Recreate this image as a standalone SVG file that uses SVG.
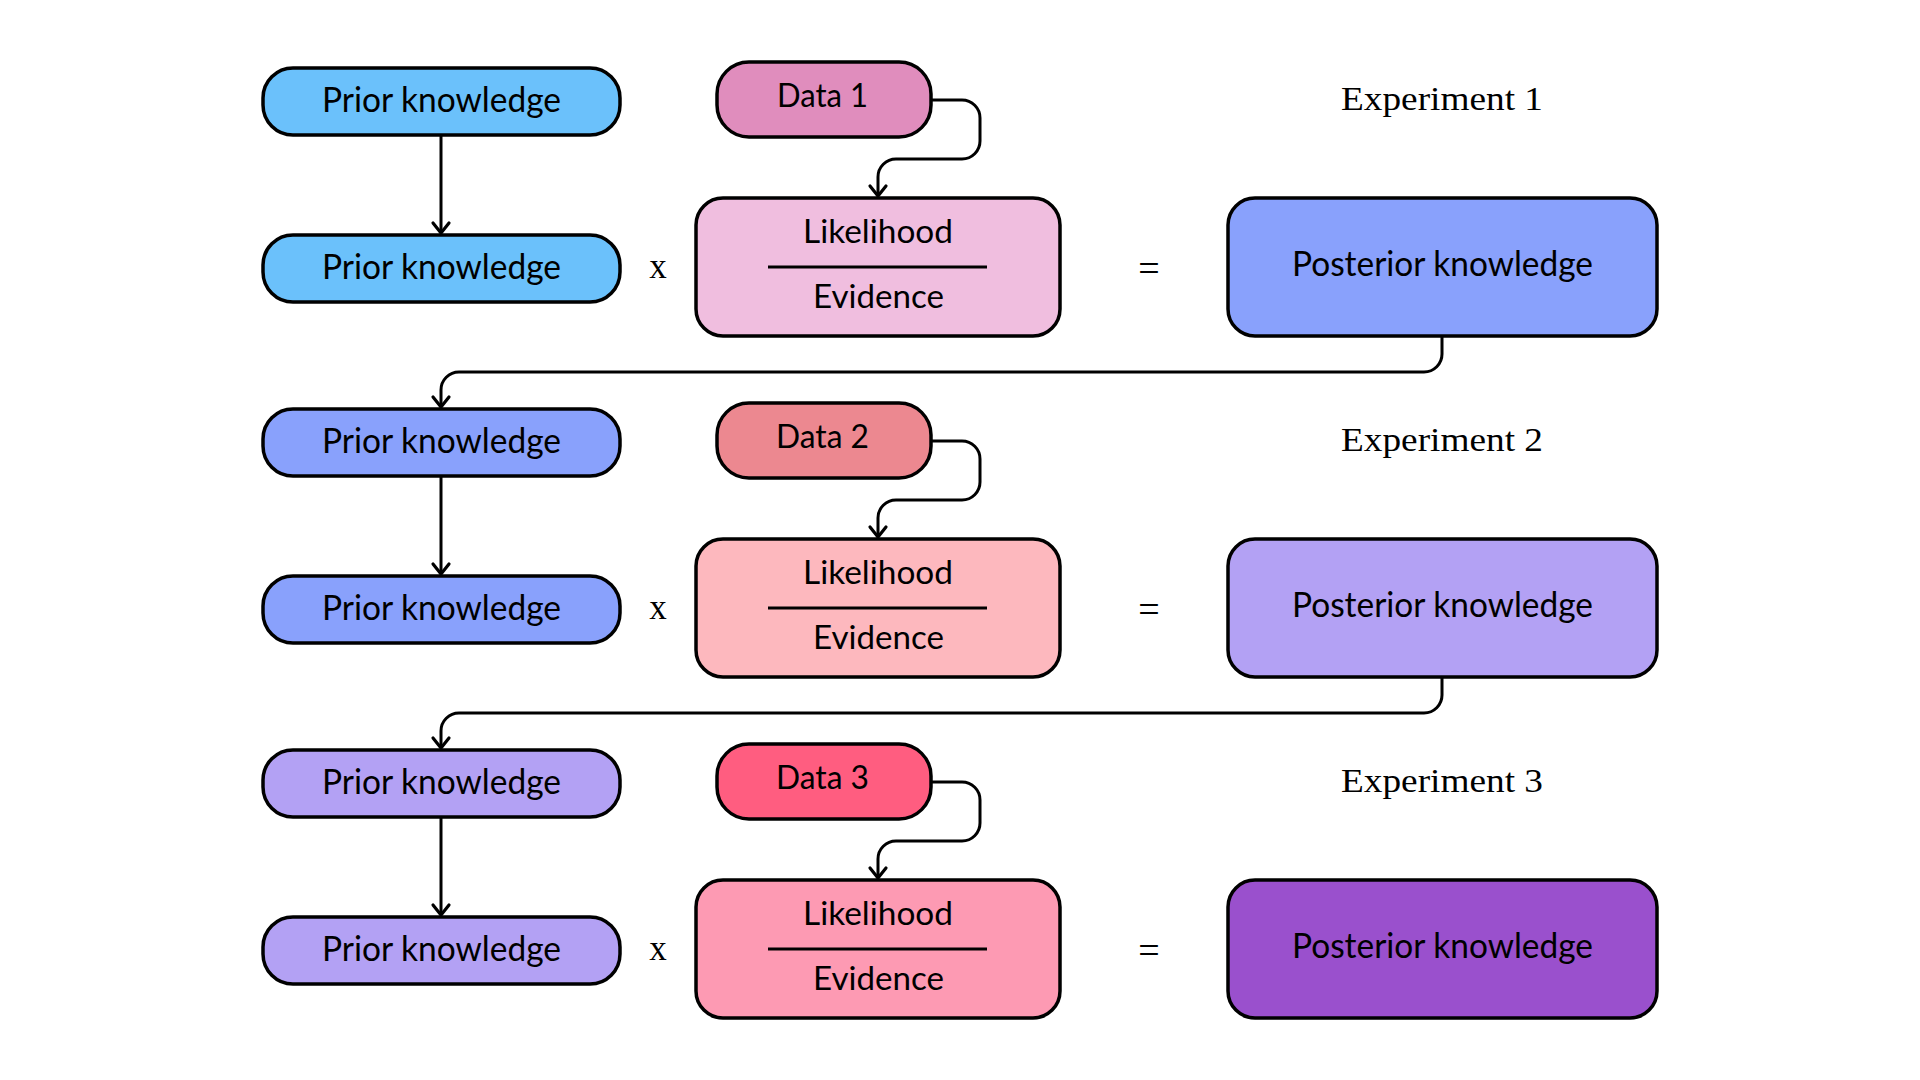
<svg xmlns="http://www.w3.org/2000/svg" width="1920" height="1080" viewBox="0 0 1920 1080">
<defs>
<style>
.box{stroke:#000;stroke-width:3.5}
.t{font-family:Lato,"Noto Sans","DejaVu Sans",sans-serif;fill:#000;text-anchor:middle}
.big{font-size:34px}
.sm{font-size:32px}
.serif{font-family:"Liberation Serif","DejaVu Serif",serif;fill:#000;text-anchor:middle}
.conn{fill:none;stroke:#000;stroke-width:3;stroke-linejoin:round}
.frac{stroke:#000;stroke-width:3}
</style>
<marker id="arr" markerUnits="userSpaceOnUse" viewBox="-14 -12 16 24" refX="0" refY="0" markerWidth="16" markerHeight="24" orient="auto" overflow="visible">
<path d="M -10 -8 L 0 0 L -10 8" fill="none" stroke="#000" stroke-width="3.2" stroke-linecap="round" stroke-linejoin="round"/>
</marker>
</defs>
<rect width="1920" height="1080" fill="#fff"/>

<g id="connectors">
<path class="conn" d="M441 135 V233" marker-end="url(#arr)"/>
<path class="conn" d="M931 100 H962 A18 18 0 0 1 980 118 V141 A18 18 0 0 1 962 159 H896 A18 18 0 0 0 878 177 V196" marker-end="url(#arr)"/>
<path class="conn" d="M1442 336 V354 A18 18 0 0 1 1424 372 H459 A18 18 0 0 0 441 390 V407" marker-end="url(#arr)"/>
<path class="conn" d="M441 476 V574" marker-end="url(#arr)"/>
<path class="conn" d="M931 441 H962 A18 18 0 0 1 980 459 V482 A18 18 0 0 1 962 500 H896 A18 18 0 0 0 878 518 V537" marker-end="url(#arr)"/>
<path class="conn" d="M1442 677 V695 A18 18 0 0 1 1424 713 H459 A18 18 0 0 0 441 731 V748" marker-end="url(#arr)"/>
<path class="conn" d="M441 817 V915" marker-end="url(#arr)"/>
<path class="conn" d="M931 782 H962 A18 18 0 0 1 980 800 V823 A18 18 0 0 1 962 841 H896 A18 18 0 0 0 878 859 V878" marker-end="url(#arr)"/>
</g>

<!-- Experiment 1 -->
<g id="prior1a"><rect class="box" x="263" y="68" width="357" height="67" rx="30" fill="#6bc1fb"/><text class="t big" x="441.5" y="112" textLength="239" lengthAdjust="spacingAndGlyphs">Prior knowledge</text></g>
<g id="prior1b"><rect class="box" x="263" y="235" width="357" height="67" rx="30" fill="#6bc1fb"/><text class="t big" x="441.5" y="279" textLength="239" lengthAdjust="spacingAndGlyphs">Prior knowledge</text></g>
<g id="data1"><rect class="box" x="717" y="62" width="214" height="75" rx="32" fill="#e08dbd"/><text class="t sm" x="822.5" y="107" textLength="91" lengthAdjust="spacingAndGlyphs">Data 1</text></g>
<g id="times1"><text class="serif" x="658" y="278" font-size="35">x</text></g>
<g id="lik1"><rect class="box" x="696" y="198" width="364" height="138" rx="27" fill="#f0bedf"/><text class="t sm" x="878" y="243" textLength="150" lengthAdjust="spacingAndGlyphs">Likelihood</text><line class="frac" x1="768" y1="267" x2="987" y2="267"/><text class="t sm" x="878.5" y="308" textLength="131" lengthAdjust="spacingAndGlyphs">Evidence</text></g>
<g id="eq1"><text class="serif" x="1149" y="281" font-size="38">=</text></g>
<g id="post1"><rect class="box" x="1228" y="198" width="429" height="138" rx="27" fill="#89a1fc"/><text class="t big" x="1442.5" y="276" textLength="301" lengthAdjust="spacingAndGlyphs">Posterior knowledge</text></g>
<g id="exp1"><text class="serif" x="1442" y="110" font-size="34" textLength="202" lengthAdjust="spacingAndGlyphs">Experiment 1</text></g>

<!-- Experiment 2 -->
<g id="prior2a"><rect class="box" x="263" y="409" width="357" height="67" rx="30" fill="#89a1fc"/><text class="t big" x="441.5" y="453" textLength="239" lengthAdjust="spacingAndGlyphs">Prior knowledge</text></g>
<g id="prior2b"><rect class="box" x="263" y="576" width="357" height="67" rx="30" fill="#89a1fc"/><text class="t big" x="441.5" y="620" textLength="239" lengthAdjust="spacingAndGlyphs">Prior knowledge</text></g>
<g id="data2"><rect class="box" x="717" y="403" width="214" height="75" rx="32" fill="#ec8890"/><text class="t sm" x="822.5" y="448" textLength="93" lengthAdjust="spacingAndGlyphs">Data 2</text></g>
<g id="times2"><text class="serif" x="658" y="619" font-size="35">x</text></g>
<g id="lik2"><rect class="box" x="696" y="539" width="364" height="138" rx="27" fill="#fdb8be"/><text class="t sm" x="878" y="584" textLength="150" lengthAdjust="spacingAndGlyphs">Likelihood</text><line class="frac" x1="768" y1="608" x2="987" y2="608"/><text class="t sm" x="878.5" y="649" textLength="131" lengthAdjust="spacingAndGlyphs">Evidence</text></g>
<g id="eq2"><text class="serif" x="1149" y="622" font-size="38">=</text></g>
<g id="post2"><rect class="box" x="1228" y="539" width="429" height="138" rx="27" fill="#b3a1f4"/><text class="t big" x="1442.5" y="617" textLength="301" lengthAdjust="spacingAndGlyphs">Posterior knowledge</text></g>
<g id="exp2"><text class="serif" x="1442" y="451" font-size="34" textLength="202" lengthAdjust="spacingAndGlyphs">Experiment 2</text></g>

<!-- Experiment 3 -->
<g id="prior3a"><rect class="box" x="263" y="750" width="357" height="67" rx="30" fill="#b3a1f4"/><text class="t big" x="441.5" y="794" textLength="239" lengthAdjust="spacingAndGlyphs">Prior knowledge</text></g>
<g id="prior3b"><rect class="box" x="263" y="917" width="357" height="67" rx="30" fill="#b3a1f4"/><text class="t big" x="441.5" y="961" textLength="239" lengthAdjust="spacingAndGlyphs">Prior knowledge</text></g>
<g id="data3"><rect class="box" x="717" y="744" width="214" height="75" rx="32" fill="#ff5d80"/><text class="t sm" x="822.5" y="789" textLength="93" lengthAdjust="spacingAndGlyphs">Data 3</text></g>
<g id="times3"><text class="serif" x="658" y="960" font-size="35">x</text></g>
<g id="lik3"><rect class="box" x="696" y="880" width="364" height="138" rx="27" fill="#fd9ab3"/><text class="t sm" x="878" y="925" textLength="150" lengthAdjust="spacingAndGlyphs">Likelihood</text><line class="frac" x1="768" y1="949" x2="987" y2="949"/><text class="t sm" x="878.5" y="990" textLength="131" lengthAdjust="spacingAndGlyphs">Evidence</text></g>
<g id="eq3"><text class="serif" x="1149" y="963" font-size="38">=</text></g>
<g id="post3"><rect class="box" x="1228" y="880" width="429" height="138" rx="27" fill="#9a50cd"/><text class="t big" x="1442.5" y="958" textLength="301" lengthAdjust="spacingAndGlyphs">Posterior knowledge</text></g>
<g id="exp3"><text class="serif" x="1442" y="792" font-size="34" textLength="202" lengthAdjust="spacingAndGlyphs">Experiment 3</text></g>
</svg>
